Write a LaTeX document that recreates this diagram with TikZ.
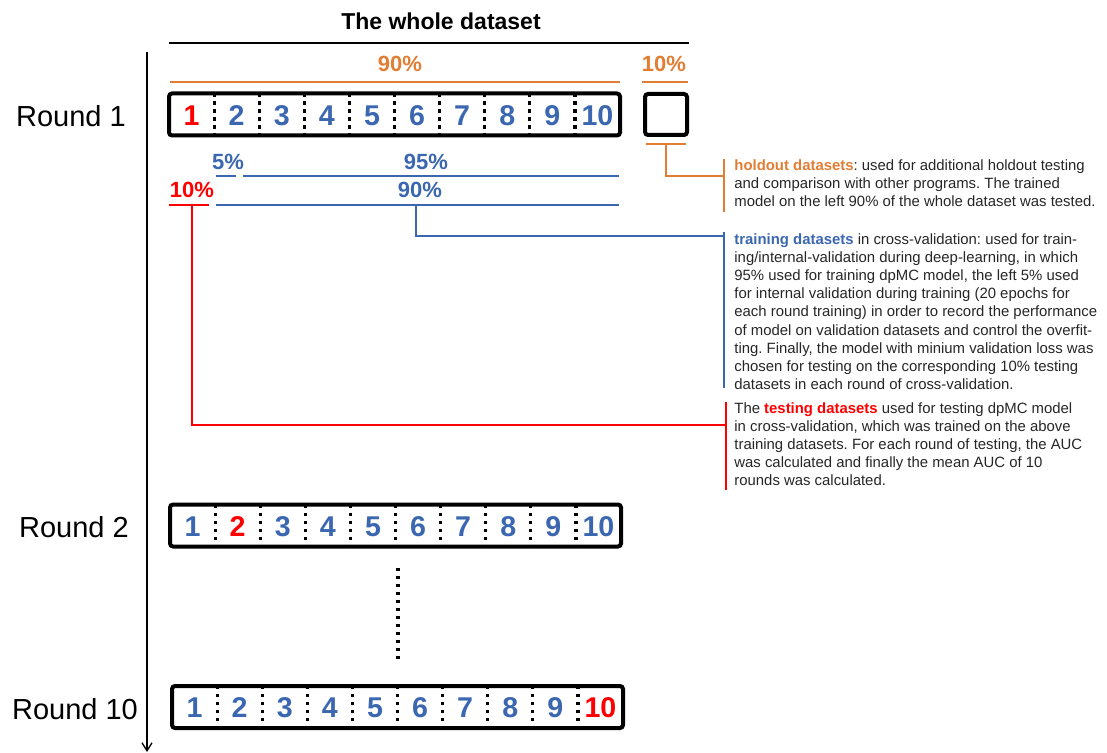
\documentclass[tikz,border=0pt]{standalone}
\usepackage{fontspec}
\setmainfont{Liberation Sans}
\usetikzlibrary{positioning,arrows.meta}
\definecolor{cvblue}{RGB}{59,103,177}
\definecolor{cvorange}{RGB}{226,125,52}
\definecolor{cvred}{RGB}{255,0,0}
\frenchspacing
\begin{document}
\begin{tikzpicture}[x=0.5pt,y=-0.5pt,
    box/.style={draw,line width=2pt,rounded corners=1.5pt,minimum width=225.5pt,minimum height=21pt,inner sep=0pt},
    sep/.style={line width=1.6pt,dash pattern=on 1.7pt off 2.3pt},
    num/.style={font=\fontsize{14.3}{14.3}\selectfont\bfseries},
    pct/.style={font=\fontsize{11}{11}\selectfont\bfseries},
    lab/.style={font=\fontsize{14.5}{14.5}\selectfont},
    note/.style={font=\fontsize{7.45}{9.1}\selectfont,align=left,anchor=north west,inner sep=0pt,text=black!85},
    thin/.style={line width=0.65pt}]
\useasboundingbox (0,0) rectangle (1107,753);

% title and time axis
\node[font=\fontsize{11.5}{11.5}\selectfont\bfseries] (title) at (441,21) {The whole dataset};
\coordinate (tl) at (169,43);
\coordinate (tr) at (689,43);
\draw[thin] (tl) -- (tr);
\coordinate (axtop) at (147,52);
\coordinate (axbot) at (147,752);
\draw[thin,-{Straight Barb[length=4pt,width=5pt]}] (axtop) -- (axbot);

% the three rounds
\foreach \r/\xl/\yc/\xlab/\red in%
    {1/167/114.5/71/1,
     2/168/525.5/74/2,
     10/170/707/75/10} {
  \node[lab] (lab_\r) at (\xlab, \yc+2) {Round \r};
  \node[box] (box_\r) at ({\xl+227.5}, \yc) {};
  \foreach \i in {1,...,9}
    \draw[sep] ({\xl+2+45.1*\i}, \yc-21) -- ({\xl+2+45.1*\i}, \yc+21);
  \foreach \i in {1,...,10} {
    \ifnum\i=\red \def\col{cvred}\else\def\col{cvblue}\fi
    \node[num,text=\col] (n_\r_\i) at ({\xl+2+45.1*\i-22.55}, \yc+1) {\i};
  }
}
\coordinate (dtop) at (398,568);
\coordinate (dbot) at (398,662);
\draw[sep] (dtop) -- (dbot);

% holdout part
\node[box,minimum width=21pt,minimum height=20.5pt] (hold) at (666,114.5) {};
\node[pct,text=cvorange] (p_all) at (400,64) {90\%};
\node[pct,text=cvorange] (p_hold) at (664,64) {10\%};
\draw[thin,cvorange] (170,82) -- (620,82);
\draw[thin,cvorange] (642,82) -- (688,82);
\draw[thin,cvorange] (646,144) -- (686,144);

% cross-validation split
\node[pct,text=cvblue] (p_val) at (228,162) {5\%};
\node[pct,text=cvblue] (p_tr) at (426,162) {95\%};
\node[pct,text=cvblue] (p_cv) at (420,190) {90\%};
\node[pct,text=cvred] (p_te) at (192,190) {10\%};
\draw[thin,cvblue] (216,176) -- (236,176);
\draw[thin,cvblue] (243,176) -- (619,176);
\draw[thin,cvblue] (216,205) -- (619,205);
\draw[thin,cvred] (169,205) -- (209,205);

% notes
\node[note] (hnote) at (734,159) {\textcolor{cvorange}{\bfseries holdout datasets}: used for additional holdout testing\\
and comparison with other programs. The trained\\
model on the left 90\% of the whole dataset was tested.};
\node[note] (trnote) at (734,233) {\textcolor{cvblue}{\bfseries training datasets} in cross-validation: used for train-\\
ing/internal-validation during deep-learning, in which\\
95\% used for training dpMC model, the left 5\% used\\
for internal validation during training (20 epochs for\\
each round training) in order to record the performance\\
of model on validation datasets and control the overfit-\\
ting. Finally, the model with minium validation loss was\\
chosen for testing on the corresponding 10\% testing\\
datasets in each round of cross-validation.};
\node[note] (tenote) at (734,402) {The \textcolor{cvred}{\bfseries testing datasets} used for testing dpMC model\\
in cross-validation, which was trained on the above\\
training datasets. For each round of testing, the AUC\\
was calculated and finally the mean AUC of 10\\
rounds was calculated.};

% brackets and leaders
\draw[thin,cvorange] (724,159) -- (724,212);
\draw[thin,cvblue] (724,232) -- (724,388);
\draw[thin,cvred] (726,402) -- (726,490);
\draw[thin,cvorange] (666,144) |- (724,176);
\draw[thin,cvblue] (416,205) |- (724,236);
\draw[thin,cvred] (192,205) |- (726,425);

\end{tikzpicture}
\end{document}
